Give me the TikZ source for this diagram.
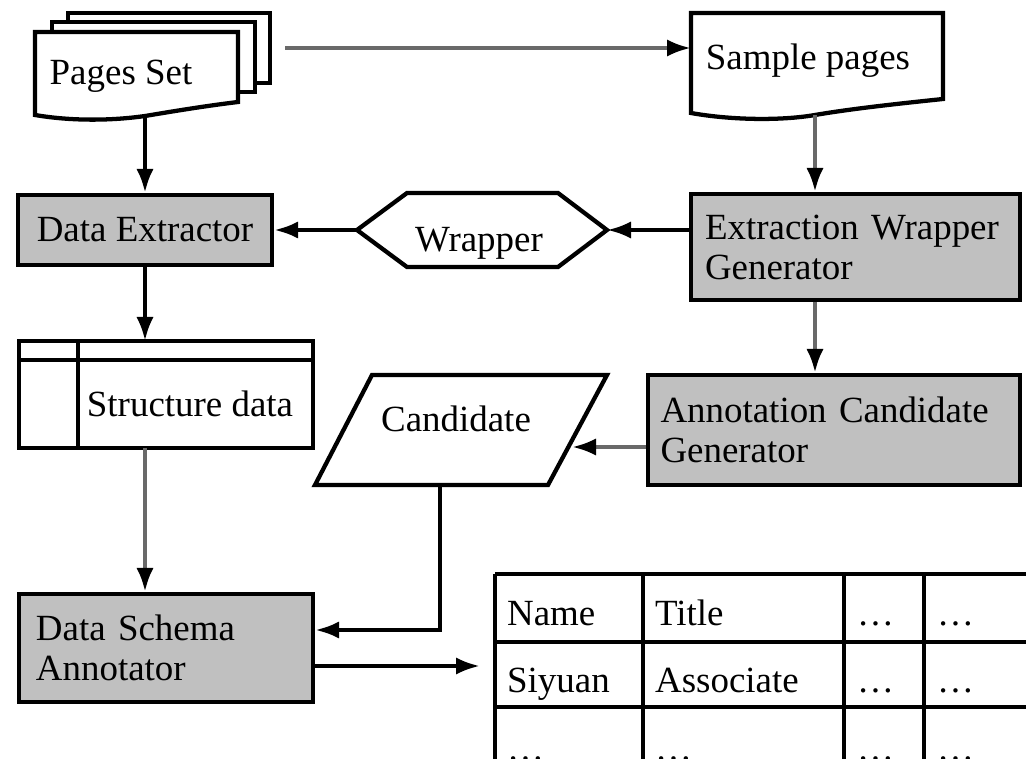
\documentclass[tikz,border=0pt]{standalone}
\usepackage{fontspec}
\setmainfont{Liberation Serif}
\usetikzlibrary{arrows.meta}

\definecolor{boxgray}{RGB}{192,192,192}
\definecolor{linegray}{RGB}{105,105,105}

\tikzset{every picture/.style={line width=3.2pt}}
\tikzset{
  arr/.style={-{Latex[length=18pt,width=13pt,color=black]}},
  procbox/.style={draw,fill=boxgray,align=left,inner ysep=0pt},
  anchorbox/.style={inner sep=0pt,outer sep=0pt},
  txt/.style={inner sep=0pt},
}

\begin{document}
\begin{tikzpicture}[x=0.75pt,y=0.75pt,yscale=-1,xscale=1,line width=3.2pt,font=\fontsize{27.7}{30}\selectfont]
	\useasboundingbox (0,0) rectangle (1026,759);

	%Shape: Multidocument [id:pages]
	\draw (68,22) -- (68,13) -- (270,13) -- (270,83) -- (255,83) ;
	\draw (52,32) -- (52,22) -- (255,22) -- (255,92) -- (238,92) ;
	\draw (35,32) -- (238,32) -- (238,102) .. controls (205,106) and (175,111) .. (145,116) .. controls (110,121) and (70,121) .. (35,115) -- cycle ;
	% Text Node
	\node[txt,anchor=base] (pages) at (121,85) {Pages Set};
	\coordinate (pagesout) at (285,48);
	\coordinate (pagesbot) at (145,116);

	%Shape: Document [id:sample]
	\draw (691,13) -- (943,13) -- (943,99) .. controls (895,104) and (850,109) .. (815,115) .. controls (780,121) and (730,120) .. (691,113) -- cycle ;
	% Text Node
	\node[txt,anchor=base] (sample) at (808,70) {Sample pages};
	\coordinate (samplein) at (691,48);
	\coordinate (samplebot) at (815,115);

	%Shape: Rectangle [id:extractor]
	\node[procbox,minimum width=190.5pt,minimum height=52.5pt] (extractor) at (145,230) {Data Extractor};

	%Shape: Rectangle [id:ewg]
	\node[procbox,text width=225.75pt,inner xsep=10.5pt,minimum height=79.5pt] (ewg) at (855.5,247) {\makebox[\linewidth][s]{Extraction Wrapper}\\Generator};

	%Shape: Hexagon [id:wrapper]
	\draw (357,230) -- (407,193) -- (558,193) -- (607,230) -- (558,267) -- (407,267) -- cycle ;
	\node[anchorbox,minimum width=187.5pt,minimum height=55.5pt] (wrapper) at (482,230) {};
	% Text Node
	\node[txt,anchor=base] (wraptext) at (479,252) {Wrapper};

	%Shape: Internal storage [id:struct]
	\node[draw,anchorbox,minimum width=220.5pt,minimum height=80.25pt] (struct) at (166,394.5) {};
	\draw (struct.north west) ++(0,19) -- ++(294,0) ;
	\draw (struct.north west) ++(59,0) -- ++(0,107) ;
	% Text Node
	\node[txt,anchor=base] (structtext) at (190,417) {Structure data};

	%Shape: Parallelogram [id:cand]
	\draw (372,375) -- (607,375) -- (548,485) -- (315,485) -- cycle ;
	% Text Node
	\node[txt,anchor=base] (cand) at (456,432) {Candidate};
	\coordinate (candin) at (572,447);
	\coordinate (candbot) at (440,485);

	%Shape: Rectangle [id:acg]
	\node[procbox,text width=260.25pt,inner xsep=9.375pt,minimum height=82.5pt] (acg) at (834,430) {\makebox[\linewidth][s]{Annotation Candidate}\\Generator};

	%Shape: Rectangle [id:dsa]
	\node[procbox,text width=195pt,inner xsep=12.75pt,minimum height=81pt] (dsa) at (166,648) {\makebox[\linewidth][s]{Data Schema}\\Annotator};

	%Shape: Table [id:table]
	\foreach \y in {574,642,707} \draw (495,\y) -- (1040,\y) ;
	\foreach \x in {495,643,844,924} \draw (\x,574) -- (\x,770) ;
	\node[txt,anchor=base west] (name) at (505,625) {Name};
	\node[txt,anchor=base west] (title) at (653,625) {Title};
	\node[txt,anchor=base west] (siyuan) at (505,692) {Siyuan};
	\node[txt,anchor=base west] (assoc) at (653,692) {Associate};
	\foreach \x/\y [count=\i] in {855/625,935/625,855/692,935/692,505/760,653/760,855/760,935/760}
		\node[txt,anchor=base west] (dots\i) at (\x,\y) {…};
	\coordinate (tabin) at (480,666);

	% Connectors
	\draw[arr,draw=linegray] (pagesout) -- (samplein) ;
	\draw[arr] (pagesbot) -- (pagesbot |- extractor.north) ;
	\draw[arr,draw=linegray] (samplebot) -- (samplebot |- ewg.north) ;
	\draw[arr] (ewg.west |- wrapper.east) -- (wrapper.east) ;
	\draw[arr] (wrapper.west) -- (wrapper.west -| extractor.east) ;
	\draw[arr] (extractor.south) -- (extractor.south |- struct.north) ;
	\draw[arr,draw=linegray] (extractor.south |- struct.south) -- (extractor.south |- dsa.north) ;
	\draw[arr,draw=linegray] (samplebot |- ewg.south) -- (samplebot |- acg.north) ;
	\draw[arr,draw=linegray] (acg.west |- candin) -- (candin) ;
	\draw[arr] (candbot) |- ([yshift=-13.5pt]dsa.east) ;
	\draw[arr] ([yshift=13.5pt]dsa.east) -- (tabin) ;

\end{tikzpicture}
\end{document}
